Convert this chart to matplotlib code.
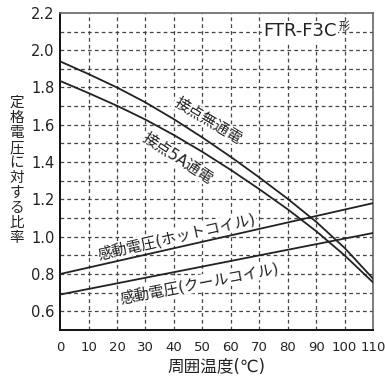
import numpy as np
import matplotlib
matplotlib.use("Agg")
import matplotlib.pyplot as plt

plt.rcParams["font.family"] = ["DejaVu Sans", "Noto Sans CJK JP"]

# ── data ────────────────────────────────────────────────────────────────────
temp = [0, 10, 20, 30, 40, 50, 60, 70, 80, 90, 100, 110]
no_current = [1.94, 1.872, 1.800, 1.720, 1.630, 1.532, 1.428, 1.318,
              1.203, 1.080, 0.940, 0.775]
current_5a = [1.835, 1.770, 1.702, 1.628, 1.545, 1.455, 1.358, 1.255,
              1.147, 1.030, 0.900, 0.755]

coil_temp = [0, 110]
hot_coil = [0.80, 1.18]
cold_coil = [0.69, 1.02]

x_ticks = list(range(0, 111, 10))
y_ticks = [0.6, 0.8, 1.0, 1.2, 1.4, 1.6, 1.8, 2.0, 2.2]
y_grid = [0.6, 0.7, 0.8, 0.9, 1.0, 1.1, 1.2, 1.3, 1.4, 1.5, 1.6, 1.7,
          1.8, 1.9, 2.0, 2.1]

fig = plt.figure(figsize=(3.85, 3.78), dpi=100)
ax = fig.add_axes([0.156, 0.127, 0.813, 0.839])

grid_kw = dict(color="#444444", linewidth=0.9, linestyle=(0, (3, 2.5)), zorder=0.5)
for x in x_ticks[1:-1]:
    ax.axvline(x, **grid_kw)
for y in y_grid:
    ax.axhline(y, **grid_kw)

line_kw = dict(color="#222222", linewidth=1.3, zorder=3)
ax.plot(temp, no_current, **line_kw)
ax.plot(temp, current_5a, **line_kw)
ax.plot(coil_temp, hot_coil, **line_kw)
ax.plot(coil_temp, cold_coil, **line_kw)

box = dict(facecolor="white", edgecolor="none", pad=0.5)
txt_kw = dict(color="#222222", ha="center", va="center", bbox=box, zorder=2)
ax.text(52, 1.625, "接点無通電", rotation=-31, fontsize=11, **txt_kw)
ax.text(41.5, 1.42, "接点5A通電", rotation=-33, fontsize=11, **txt_kw)
ax.text(41, 1.0, "感動電圧(ホットコイル)", rotation=13, fontsize=10.8, **txt_kw)
ax.text(49, 0.75, "感動電圧(クールコイル)", rotation=11, fontsize=10.8, **txt_kw)

model = ax.text(71.5, 2.102, "FTR-F3C", fontsize=13, color="#222222",
                ha="left", va="center",
                bbox=dict(facecolor="white", edgecolor="none", pad=1), zorder=2)
ax.annotate("形", xy=(1, 0.75), xycoords=model, xytext=(1, 0),
            textcoords="offset points", fontsize=8, color="#222222",
            ha="left", va="center", zorder=2)

ax.set_xlim(0, 110)
ax.set_ylim(0.5, 2.2)
ax.set_xticks(x_ticks)
ax.set_yticks(y_ticks)
ax.set_yticklabels([f"{v:.1f}" for v in y_ticks])
ax.tick_params(length=0, pad=4, labelsize=10.5, colors="#222222")
ax.tick_params(axis="x", labelsize=9.5, pad=8)

for side in ("left", "bottom"):
    ax.spines[side].set_linewidth(1.4)
    ax.spines[side].set_color("#111111")
for side in ("top", "right"):
    ax.spines[side].set_linewidth(1.2)
    ax.spines[side].set_color("#666666")

ax.set_xlabel("周囲温度(℃)", fontsize=12, color="#222222", labelpad=3)
fig.text(0.044, 0.55, "\n".join("定格電圧に対する比率"), fontsize=10.5,
         color="#222222", ha="center", va="center", linespacing=1.0)

fig.savefig("out.png", dpi=100)
